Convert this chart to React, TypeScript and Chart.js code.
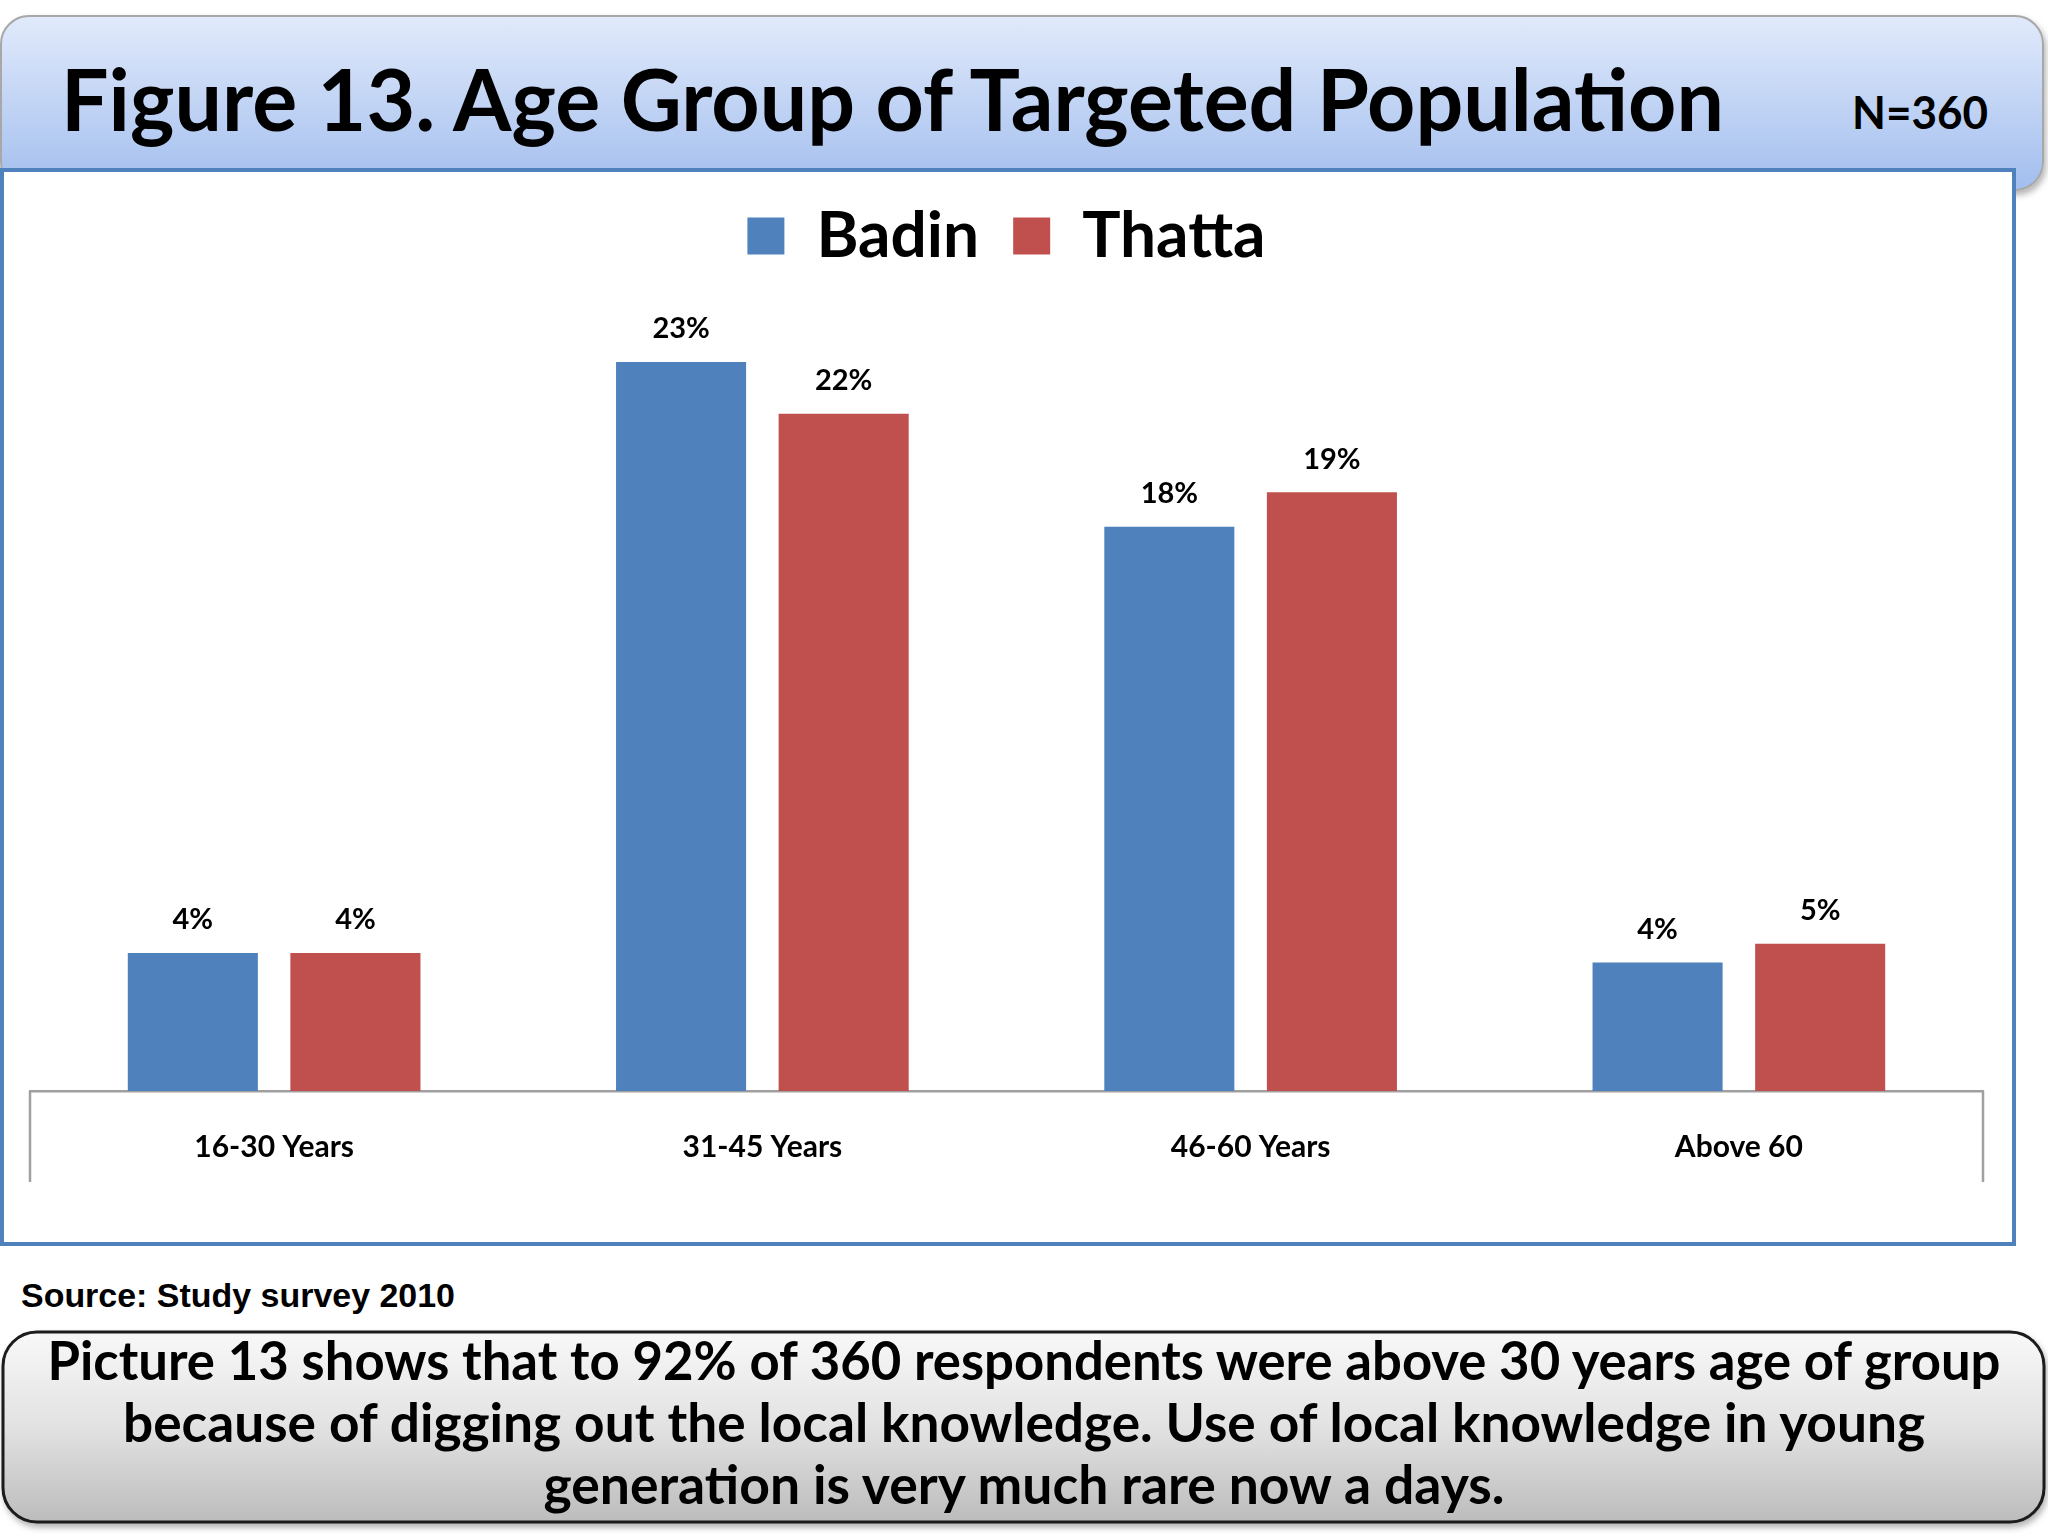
import React, { useEffect, useRef } from "react";
import { Chart, registerables } from "chart.js";

Chart.register(...registerables);

const categories = ["16-30 Years", "31-45 Years", "46-60 Years", "Above 60"];
const seriesNames = ["Badin", "Thatta"];
const badinValues = [4.4, 23.25, 18.0, 4.1];
const thattaValues = [4.4, 21.6, 19.1, 4.7];
const seriesColors = ["#4f81bd", "#c0504d"];

const titleText = "Figure 13. Age Group of Targeted Population";
const sampleText = "N=360";
const sourceText = "Source: Study survey 2010";
const noteLines = [
  "Picture 13 shows that to 92% of 360 respondents were above 30 years age of group",
  "because of digging out the local knowledge. Use of local knowledge in young",
  "generation is very much rare now a days.",
];
const noteWidths = [1953, 1802, 961];

const FONT = "Lato, 'Open Sans', sans-serif";

const valueLabelPlugin = {
  id: "valueLabels",
  afterDatasetsDraw(chart: any) {
    const ctx = chart.ctx;
    ctx.save();
    ctx.font = "700 29px Lato";
    ctx.fillStyle = "#000";
    ctx.textAlign = "center";
    ctx.textBaseline = "middle";
    chart.data.datasets.forEach((ds: any, i: number) => {
      chart.getDatasetMeta(i).data.forEach((el: any, j: number) => {
        ctx.fillText(Math.round(ds.data[j]) + "%", el.x, el.y - 33);
      });
    });
    ctx.restore();
  },
};

const edgeLinePlugin = {
  id: "edgeLines",
  afterDraw(chart: any) {
    const { ctx, chartArea } = chart;
    ctx.save();
    ctx.strokeStyle = "#a0a0a0";
    ctx.lineWidth = 2.5;
    ctx.beginPath();
    [chartArea.left, chartArea.right].forEach((x: number) => {
      ctx.moveTo(x, chartArea.bottom);
      ctx.lineTo(x, chartArea.bottom + 91);
    });
    ctx.stroke();
    ctx.restore();
  },
};

export default function App() {
  const canvasRef = useRef<HTMLCanvasElement | null>(null);

  useEffect(() => {
    document.body.style.margin = "0";
    const canvas = canvasRef.current;
    if (!canvas) return;
    const chart = new Chart(canvas, {
      type: "bar",
      data: {
        labels: categories,
        datasets: [
          {
            label: seriesNames[0],
            data: badinValues,
            backgroundColor: seriesColors[0],
            borderWidth: 0,
            categoryPercentage: 0.666,
            barPercentage: 0.8,
          },
          {
            label: seriesNames[1],
            data: thattaValues,
            backgroundColor: seriesColors[1],
            borderWidth: 0,
            categoryPercentage: 0.666,
            barPercentage: 0.8,
          },
        ],
      },
      options: {
        animation: false,
        responsive: false,
        devicePixelRatio: 1,
        layout: { padding: { left: 26, right: 29, top: -2, bottom: 0 } },
        plugins: {
          legend: {
            display: true,
            position: "top",
            labels: {
              font: { family: FONT, size: 64, weight: "bold" },
              color: "#000",
              boxWidth: 37,
              boxHeight: 37,
              padding: 34,
            },
          },
          tooltip: { enabled: false },
        },
        scales: {
          x: {
            z: 1,
            grid: { display: false, drawTicks: false },
            border: { display: true, color: "#a0a0a0", width: 2.5 },
            ticks: {
              font: { family: FONT, size: 30, weight: "bold" },
              color: "#000",
              padding: 38,
            },
            afterFit: (scale: any) => {
              scale.height = 151;
            },
          },
          y: {
            display: false,
            min: 0,
            max: 25.93,
          },
        },
      },
      plugins: [valueLabelPlugin, edgeLinePlugin],
    });
    return () => chart.destroy();
  }, []);

  return (
    <div style={{ position: "absolute", left: 0, top: 0, width: 2048, height: 1536, background: "#fff" }}>
      <svg width={2048} height={1536} style={{ position: "absolute", left: 0, top: 0 }}>
        <defs>
          <linearGradient id="bannerGrad" x1="0" y1="0" x2="0" y2="1">
            <stop offset="0" stopColor="#e1eafb" />
            <stop offset="1" stopColor="#a2beee" />
          </linearGradient>
          <linearGradient id="noteGrad" x1="0" y1="0" x2="0" y2="1">
            <stop offset="0" stopColor="#f8f8f8" />
            <stop offset="0.5" stopColor="#e2e2e2" />
            <stop offset="1" stopColor="#bcbcbc" />
          </linearGradient>
          <filter id="shadow" x="-5%" y="-20%" width="110%" height="140%">
            <feDropShadow dx="2" dy="4" stdDeviation="3" floodColor="#000" floodOpacity="0.3" />
          </filter>
        </defs>
        <rect x={1} y={16} width={2042} height={174} rx={28} fill="url(#bannerGrad)" stroke="#a8a8a8" strokeWidth={2} filter="url(#shadow)" />
        <text x={61} y={131} fontFamily={FONT} fontWeight={700} fontSize={87} fill="#000" textLength={1663} lengthAdjust="spacingAndGlyphs">
          {titleText}
        </text>
        <text x={1852} y={129} fontFamily={FONT} fontWeight={700} fontSize={46} fill="#000" textLength={136} lengthAdjust="spacingAndGlyphs">
          {sampleText}
        </text>
        <rect x={2} y={170} width={2012} height={1074} fill="#fff" stroke="#4f81bd" strokeWidth={4} />
        <text x={21} y={1307} fontFamily="'Liberation Sans', Arial, sans-serif" fontWeight={700} fontSize={34} fill="#000" textLength={434} lengthAdjust="spacingAndGlyphs">
          {sourceText}
        </text>
        <rect x={3} y={1332} width={2041} height={190} rx={34} fill="url(#noteGrad)" stroke="#1a1a1a" strokeWidth={3} filter="url(#shadow)" />
        {noteLines.map((line, i) => (
          <text
            key={i}
            x={1024}
            y={1380 + i * 62}
            textAnchor="middle"
            fontFamily={FONT}
            fontWeight={700}
            fontSize={53}
            fill="#000"
            textLength={noteWidths[i]}
            lengthAdjust="spacingAndGlyphs"
          >
            {line}
          </text>
        ))}
      </svg>
      <canvas
        ref={canvasRef}
        width={2008}
        height={1070}
        style={{ position: "absolute", left: 4, top: 172, width: 2008, height: 1070 }}
      />
    </div>
  );
}
